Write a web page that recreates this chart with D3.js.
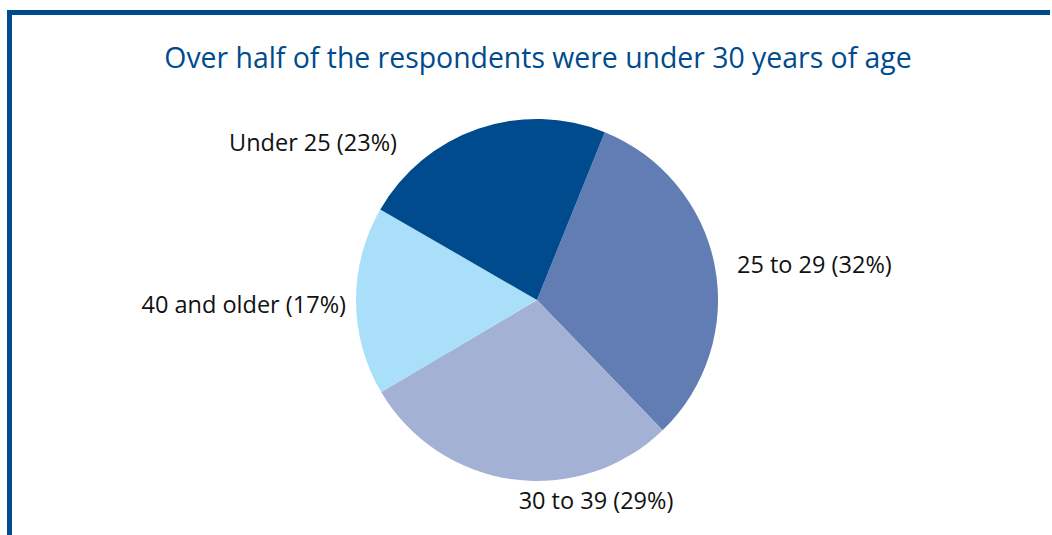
<!DOCTYPE html>
<html>
<head>
<meta charset="utf-8">
<script src="https://cdn.jsdelivr.net/npm/d3@7"></script>
<style>
  html, body { margin: 0; padding: 0; background: #fff; }
  svg { display: block; }
</style>
</head>
<body>
<svg id="chart" width="1052" height="535"></svg>
<script>
// Age groups of respondents, clockwise from the top-right
const categories = ["25 to 29", "30 to 39", "40 and older", "Under 25"];
const shares = [32, 29, 17, 23];
const colors = ["#627db3", "#a3b2d4", "#aadff9", "#004b8d"];

const W = 1052, H = 535;
const cx = 537, cy = 300, radius = 181;
const blue = "#004b8d";
const font = "'Open Sans', 'Noto Sans', sans-serif";

const svg = d3.select("#chart");

// Frame: heavy rule along the top and left edge
svg.append("rect").attr("x", 7).attr("y", 10).attr("width", W - 9).attr("height", 5).attr("fill", blue);
svg.append("rect").attr("x", 7).attr("y", 10).attr("width", 5).attr("height", H - 10).attr("fill", blue);

svg.append("text")
  .attr("x", 538).attr("y", 68)
  .attr("text-anchor", "middle")
  .attr("font-family", font)
  .attr("font-size", 28.4)
  .attr("fill", blue)
  .text("Over half of the respondents were under 30 years of age");

const startAngle = 22 * Math.PI / 180;
const pie = d3.pie().sort(null).value(d => d.v)
  .startAngle(startAngle).endAngle(startAngle + 2 * Math.PI);
const arc = d3.arc().innerRadius(0).outerRadius(radius);

const data = categories.map((c, i) => ({ c, v: shares[i], color: colors[i] }));
const arcs = pie(data);

const g = svg.append("g").attr("transform", `translate(${cx},${cy})`);
g.selectAll("path").data(arcs).join("path")
  .attr("d", arc)
  .attr("fill", d => d.data.color);

// Label placement relative to the pie centre
const labelLayout = {
  "25 to 29":     { dx: 200,  dy: -27, anchor: "start" },
  "30 to 39":     { dx: 59,   dy: 209, anchor: "middle" },
  "40 and older": { dx: -191, dy: 13,  anchor: "end" },
  "Under 25":     { dx: -140, dy: -149, anchor: "end" }
};

g.selectAll("text.lbl").data(arcs).join("text")
  .attr("class", "lbl")
  .attr("x", d => labelLayout[d.data.c].dx)
  .attr("y", d => labelLayout[d.data.c].dy)
  .attr("text-anchor", d => labelLayout[d.data.c].anchor)
  .attr("font-family", font)
  .attr("font-size", 23.5)
  .attr("fill", "#111")
  .text(d => `${d.data.c} (${d.data.v}%)`);
</script>
</body>
</html>
